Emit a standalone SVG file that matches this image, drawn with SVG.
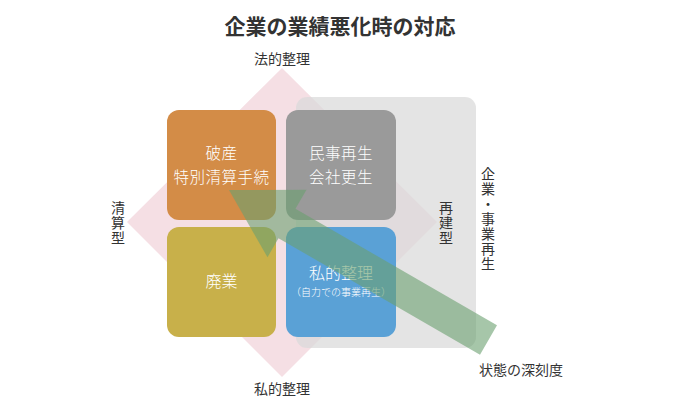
<svg xmlns="http://www.w3.org/2000/svg" width="680" height="410" viewBox="0 0 680 410">
<style>
text{font-family:"Noto Sans CJK JP","Noto Sans",sans-serif;}
.title{font-size:21px;font-weight:bold;fill:#333;}
.lbl{font-size:14px;fill:#333;}
.vert{writing-mode:vertical-rl;letter-spacing:1px;}
.box{font-size:16px;fill:#fff;font-weight:300;}
.box2{font-size:15.5px;fill:#fff;font-weight:300;letter-spacing:0.5px;}
.small{font-size:10px;fill:#fff;font-weight:300;}
</style>
<rect width="680" height="410" fill="#fff"/>
<text class="title" x="340" y="34" text-anchor="middle">企業の業績悪化時の対応</text>
<g id="bg">
<polygon points="282,68 437,222 282,377 127,222" fill="#f5dfe4"/>
<rect x="296" y="97" width="180" height="251" rx="11" fill="#d9d9d9" fill-opacity="0.72"/>
</g>
<g id="axis-labels">
<text class="lbl" x="282" y="64" text-anchor="middle">法的整理</text>
<text class="lbl" x="282" y="394" text-anchor="middle">私的整理</text>
<text class="lbl vert" x="118" y="201">清算型</text>
<text class="lbl vert" x="446" y="201">再建型</text>
<text class="lbl vert" x="488" y="167">企業・事業再生</text>
<text class="lbl" x="479" y="375">状態の深刻度</text>
</g>
<g id="hasan">
<rect x="167" y="110" width="109" height="110" rx="12" fill="#d38c47"/>
<text class="box2" x="221.5" y="159" text-anchor="middle">破産</text>
<text class="box2" x="221.5" y="182.5" text-anchor="middle">特別清算手続</text>
</g>
<g id="minji">
<rect x="286" y="110" width="110" height="110" rx="12" fill="#9a9a9a"/>
<text class="box2" x="341" y="159" text-anchor="middle">民事再生</text>
<text class="box2" x="341" y="182.5" text-anchor="middle">会社更生</text>
</g>
<g id="haigyo">
<rect x="167" y="227" width="109" height="110" rx="12" fill="#c8b04a"/>
<text class="box" x="221.5" y="287" text-anchor="middle">廃業</text>
</g>
<g id="shiteki">
<rect x="286" y="227" width="110" height="110" rx="12" fill="#5aa1d6"/>
<text class="box" x="341" y="279" text-anchor="middle">私的整理</text>
<text class="small" x="341" y="296" text-anchor="middle">（自力での事業再生）</text>
</g>
<g id="connectors">
<polygon points="229,190 306.5,189.7 295.5,208.8 497,325.3 480,354.7 278.5,238.2 267.5,257.3" fill="#6ba070" fill-opacity="0.6"/>
</g>
</svg>
